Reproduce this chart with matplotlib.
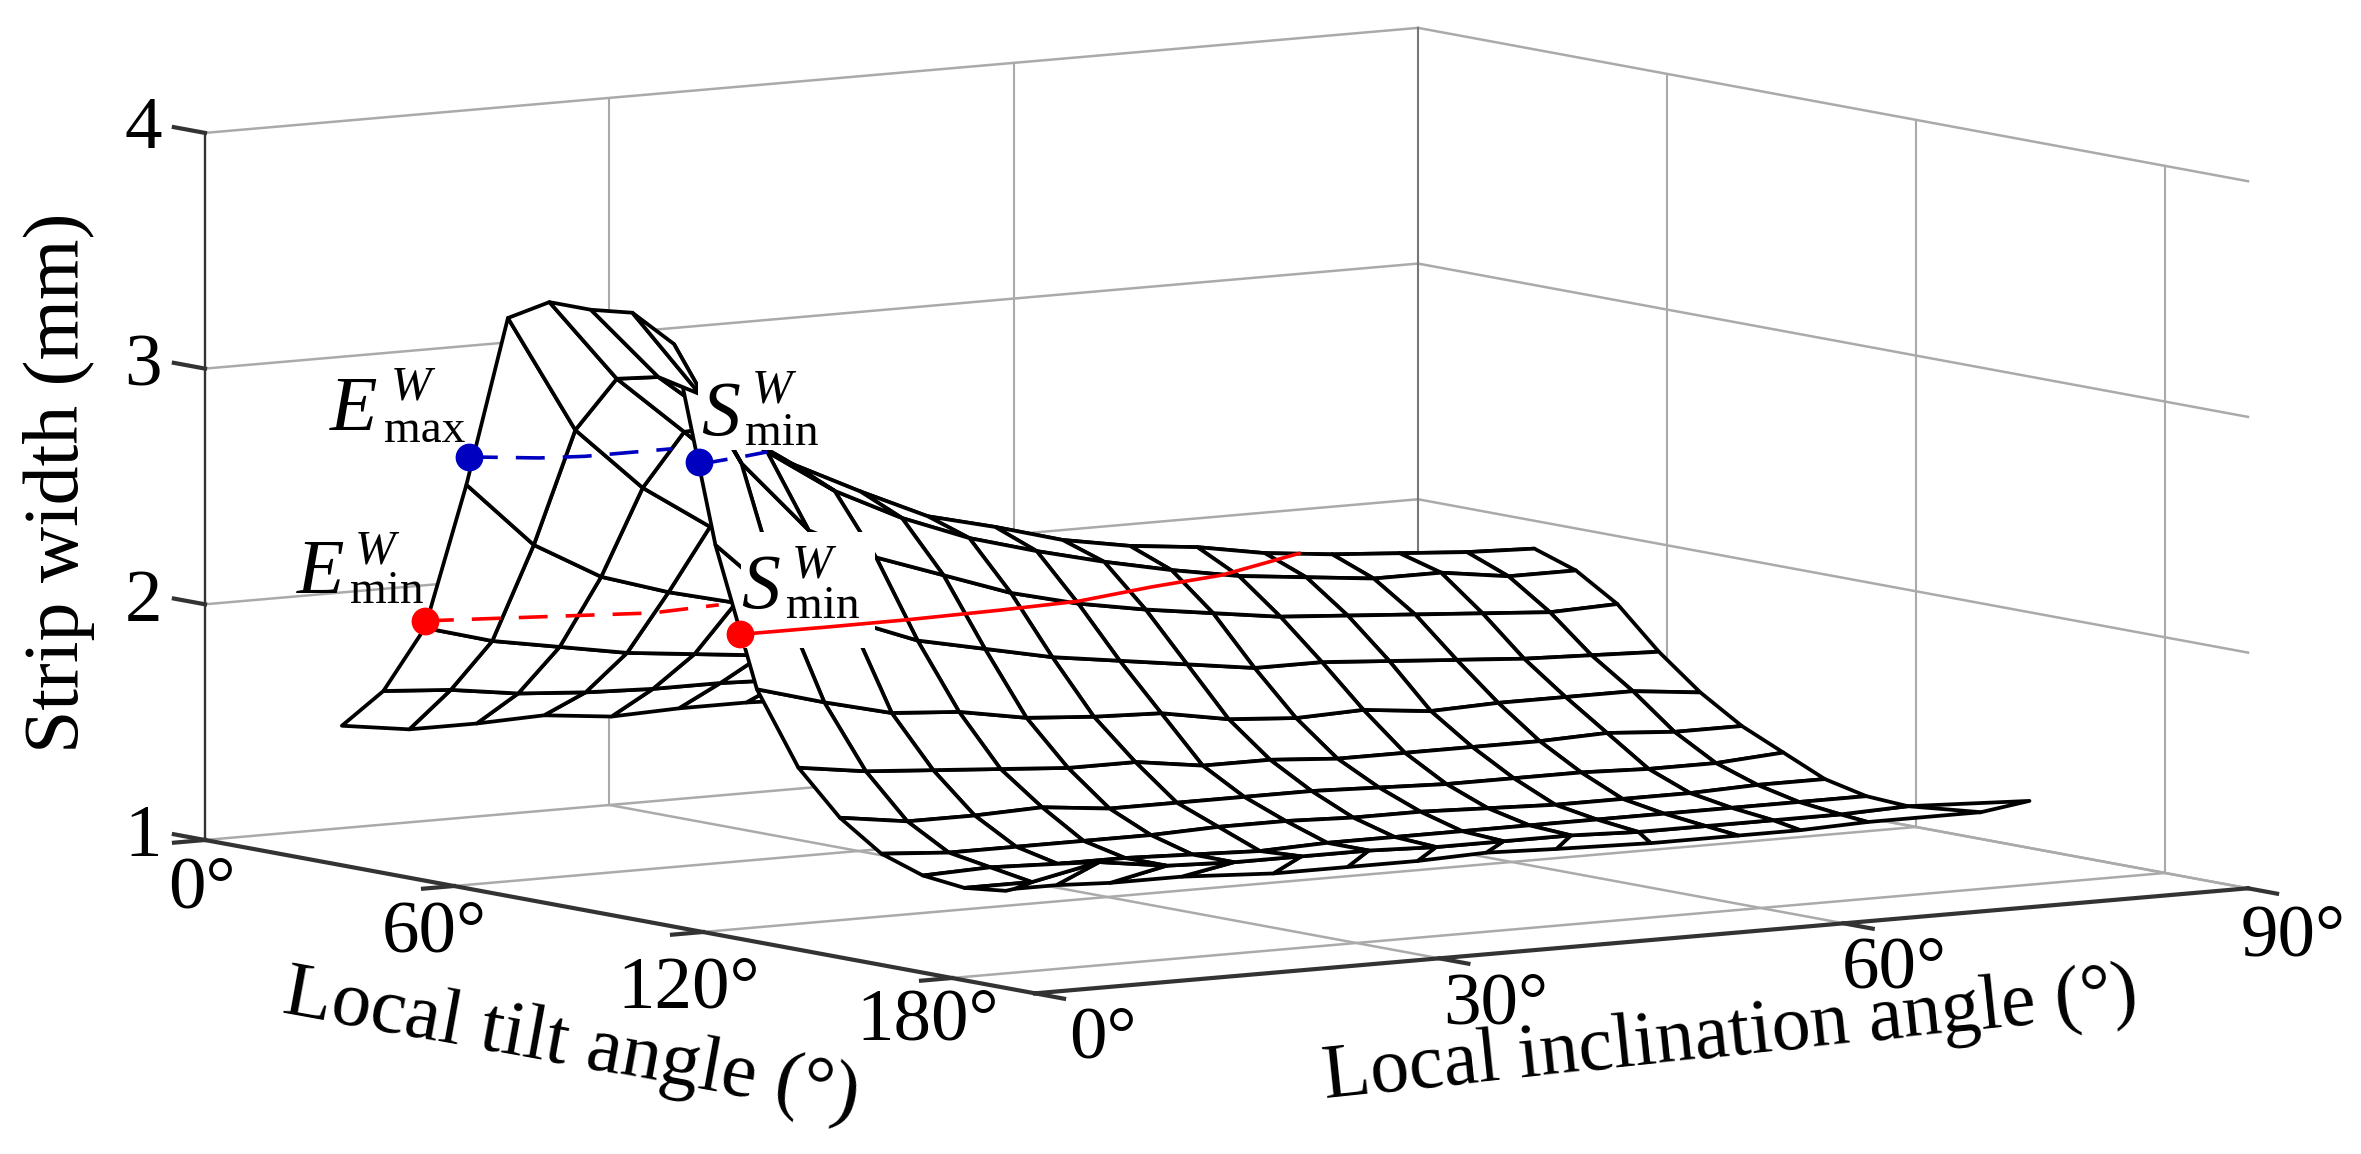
import numpy as np
from matplotlib import pyplot as plt
from matplotlib.patches import Rectangle

W = 2361
H = 1154

tilt_deg = [20, 30, 40, 50, 60, 70, 80, 90, 100, 110, 120, 130, 140, 150, 160, 170, 180]
incl_deg = [4, 9, 14, 19, 24, 29, 34, 39, 44, 49, 54, 59, 64, 69, 74]

# strip width (mm), one row per tilt angle, one column per inclination angle
w20 = [1.53, 1.49, 1.49, 1.50, 1.47, 1.48, 1.48, 1.47, 1.46, 1.45, 1.45, 1.44, 1.43, 1.42, 1.42]
w30 = [1.71, 1.69, 1.65, 1.63, 1.62, 1.62, 1.61, 1.60, 1.59, 1.58, 1.57, 1.56, 1.55, 1.54, 1.53]
w40 = [2.01, 1.93, 1.88, 1.83, 1.80, 1.77, 1.75, 1.73, 1.72, 1.71, 1.70, 1.69, 1.68, 1.67, 1.66]
w50 = [2.65, 2.37, 2.21, 2.12, 2.05, 2.00, 1.97, 1.94, 1.92, 1.90, 1.88, 1.87, 1.86, 1.85, 1.84]
w60 = [3.39, 2.89, 2.62, 2.43, 2.24, 2.18, 2.14, 2.10, 2.07, 2.05, 2.03, 2.01, 2.00, 1.99, 1.98]
w70 = [3.49, 3.14, 2.89, 2.63, 2.55, 2.40, 2.30, 2.22, 2.17, 2.13, 2.10, 2.08, 2.07, 2.06, 2.05]
w80 = [3.49, 3.18, 2.95, 2.76, 2.62, 2.49, 2.42, 2.34, 2.29, 2.26, 2.21, 2.18, 2.16, 2.14, 2.13]
w90 = [3.51, 3.14, 2.87, 2.68, 2.54, 2.43, 2.35, 2.28, 2.22, 2.17, 2.14, 2.11, 2.11, 2.07, 2.07]
w100 = [3.41, 2.88, 2.57, 2.43, 2.33, 2.23, 2.16, 2.11, 2.07, 2.03, 2.01, 1.99, 1.97, 1.95, 1.96]
w110 = [2.59, 2.32, 2.22, 2.11, 2.05, 1.99, 1.95, 1.91, 1.87, 1.87, 1.85, 1.83, 1.81, 1.80, 1.79]
w120 = [2.01, 1.93, 1.86, 1.84, 1.79, 1.77, 1.76, 1.71, 1.69, 1.70, 1.67, 1.68, 1.68, 1.68, 1.65]
w130 = [1.71, 1.67, 1.65, 1.63, 1.61, 1.61, 1.57, 1.57, 1.55, 1.55, 1.55, 1.55, 1.56, 1.54, 1.54]
w140 = [1.53, 1.49, 1.49, 1.50, 1.47, 1.47, 1.47, 1.47, 1.46, 1.45, 1.45, 1.45, 1.44, 1.44, 1.46]
w150 = [1.41, 1.39, 1.39, 1.39, 1.39, 1.40, 1.40, 1.39, 1.39, 1.38, 1.37, 1.37, 1.37, 1.38, 1.38]
w160 = [1.35, 1.36, 1.35, 1.35, 1.34, 1.33, 1.34, 1.34, 1.34, 1.34, 1.34, 1.34, 1.34, 1.34, 1.34]
w170 = [1.33, 1.33, 1.39, 1.35, 1.34, 1.34, 1.34, 1.33, 1.33, 1.33, 1.32, 1.32, 1.32, 1.32, 1.33]
strip_width = [w20, w30, w40, w50, w60, w70, w80, w90, w100, w110, w120, w130, w140, w150, w160, w170]

# the front row of the mesh folds back under the row behind it
front_tilt = [180, 160, 160, 160, 160, 160, 160, 160, 160, 160, 160, 160, 160, 160, 160]
front_incl = [4, 10.8, 13.9, 17.9, 23.2, 30, 35.5, 40.7, 45.8, 51, 58, 64.5, 69.1, 74.1, 82.5]
front_width = [1.35, 1.26, 1.26, 1.25, 1.25, 1.23, 1.23, 1.23, 1.24, 1.23, 1.22, 1.22, 1.22, 1.23, 1.23]

# last bit of the mesh that runs out to the tip
tip_tilt = [170, 160, 160]
tip_incl = [74, 86.1, 82.5]
tip_width = [1.33, 1.26, 1.23]

# traces drawn on the surface
emin_tilt = [40, 40, 40, 40]
emin_incl = [4, 14.2, 20.9, 25.8]
emin_width = [2.04, 2.01, 1.99, 2.00]
smin_tilt = [116, 112, 107.5, 104, 100, 95, 90, 88, 85]
smin_incl = [4, 11.5, 19, 27, 34, 41, 47.7, 51, 55]
smin_width = [2.23, 2.21, 2.19, 2.18, 2.17, 2.18, 2.18, 2.20, 2.22]
emax_tilt = [50.6, 50.6, 50.6, 50.6]
emax_incl = [4, 9.2, 12.6, 19.1]
emax_width = [2.77, 2.74, 2.73, 2.73]
smax_tilt = [106, 103, 99.8, 96.7, 90]
smax_incl = [4, 6, 8, 10, 14]
smax_width = [2.93, 2.91, 2.90, 2.89, 2.87]

tilt_ticks = [0, 60, 120, 180]
incl_ticks = [0, 30, 60, 90]
z_ticks = [1, 2, 3, 4]
tilt_end = 200

plt.rcParams['font.family'] = ['Liberation Serif', 'DejaVu Serif']


def make_axes(zorder):
    ax = fig.add_axes([0, 0, 1, 1], projection='3d', proj_type='ortho', facecolor='none')
    ax.set_zorder(zorder)
    ax.set_axis_off()
    ax.computed_zorder = False
    ax.apply_aspect = lambda position=None: None

    # the picture is an oblique view with upright verticals, so set the camera by hand
    def get_proj():
        x0, x1 = ax.viewLim.intervalx
        y0, y1 = ax.viewLim.intervaly
        sx = (x1 - x0) / W
        sy = (y1 - y0) / H
        return np.array([
            [sx * 4.15, sx * 13.478, 0, x0 + sx * 205],
            [-sy * 0.7667, sy * 1.167, sy * 235.7, y0 + sy * (H - 1075.7)],
            [-1 / 200, 1 / 90, -1 / 3, 1 / 3],
            [0, 0, 0, 1]])
    ax.get_proj = get_proj
    return ax


def px_text(x, y, s, size, **kw):
    return fig.text(x / W, 1 - y / H, s, fontsize=size, va='baseline', zorder=5, **kw)


def symbol(x, y, letter, sup_x, sup_y, sub_x, sub_y, sub):
    px_text(x, y, letter, 56, style='italic')
    px_text(sup_x, sup_y, 'W', 35, style='italic')
    px_text(sub_x, sub_y, sub, 34)


fig = plt.figure(figsize=(W / 100, H / 100), dpi=100)
ax = make_axes(0)
top = make_axes(2)

grey = '#aaaaaa'
dark = '#333333'

# walls and floor
for z in z_ticks:
    ax.plot([0, 0], [0, 90], [z, z], color=grey, lw=1.8, zorder=1)
    ax.plot([0, tilt_end], [90, 90], [z, z], color=grey, lw=1.8, zorder=1)
for i in incl_ticks[1:]:
    ax.plot([0, 0], [i, i], [1, 4], color='#777777' if i == 90 else grey, lw=1.5, zorder=1)
    ax.plot([0, tilt_end], [i, i], [1, 1], color=grey, lw=1.8, zorder=1)
for t in tilt_ticks[1:]:
    ax.plot([t, t], [90, 90], [1, 4], color=grey, lw=1.5, zorder=1)
    ax.plot([t, t], [0, 90], [1, 1], color=grey, lw=1.8, zorder=1)
ax.plot([0, 0], [0, 0], [1, 4], color=dark, lw=1.7, zorder=1)

# axis lines and ticks
ax.plot([0, tilt_end], [0, 0], [1, 1], color=dark, lw=3, zorder=1)
ax.plot([tilt_end, tilt_end], [0, 90], [1, 1], color=dark, lw=3, zorder=1)
for t in tilt_ticks:
    ax.plot([t, t], [0, -2.3], [1, 1], color=dark, lw=3, zorder=1)
for i in incl_ticks:
    ax.plot([tilt_end, tilt_end + 7], [i, i], [1, 1], color=dark, lw=3, zorder=1)
for z in z_ticks:
    ax.plot([0, -7.5], [0, 0], [z, z], color=dark, lw=3, zorder=1)

# mesh
X, Y = np.meshgrid(tilt_deg, incl_deg, indexing='ij')
X = X.astype(float)
Y = Y.astype(float)
X[-1] = front_tilt
Y[-1] = front_incl
Z = np.array(strip_width + [front_width])
ax.plot_surface(X, Y, Z, rstride=1, cstride=1, color='white',
                edgecolor='black', linewidth=2.7, shade=False, zorder=2)
ax.plot(tip_tilt, tip_incl, tip_width, color='black', lw=2.7, zorder=3)

# white boxes under the two S labels cut the mesh
for x0, y0, x1, y1 in [(698, 340, 825, 450), (741, 532, 875, 648)]:
    fig.add_artist(Rectangle((x0 / W, 1 - y1 / H), (x1 - x0) / W, (y1 - y0) / H,
                             transform=fig.transFigure, facecolor='white',
                             edgecolor='none', zorder=1))

red = '#ff0000'
blue = '#0000c0'
dash = (0, (8, 5))
top.plot(emin_tilt, emin_incl, emin_width, color=red, lw=2.6, ls=dash)
top.plot(smin_tilt, smin_incl, smin_width, color=red, lw=2.6)
top.plot(emax_tilt, emax_incl, emax_width, color=blue, lw=2.6, ls=dash)
top.plot(smax_tilt, smax_incl, smax_width, color=blue, lw=2.6, ls=dash)
for tt, ii, ww, c in [(emin_tilt, emin_incl, emin_width, red), (smin_tilt, smin_incl, smin_width, red),
                      (emax_tilt, emax_incl, emax_width, blue), (smax_tilt, smax_incl, smax_width, blue)]:
    top.plot(tt[:1], ii[:1], ww[:1], 'o', color=c, ms=20, mew=0)

# tick labels
for z, y in zip(z_ticks, [856, 621, 385, 148]):
    px_text(162, y, str(z), 54, ha='right')
for t, x, y in zip(tilt_ticks, [168, 382, 617, 856], [907, 952, 1008, 1040]):
    px_text(x, y, f'{t}°', 54)
for i, x, y in zip(incl_ticks, [1069, 1443, 1842, 2241], [1058, 1023, 987, 955]):
    px_text(x, y, f'{i}°', 54)

# axis labels
px_text(78, 753, 'Strip width (mm)', 56, rotation=90, rotation_mode='anchor', ha='left')
px_text(281, 1012, 'Local tilt angle (°)', 57, rotation=-10.3, rotation_mode='anchor', ha='left')
px_text(1325, 1098, 'Local inclination angle (°)', 56, rotation=6, rotation_mode='anchor', ha='left')

# point labels
symbol(330, 430, 'E', 391, 400, 384, 442, 'max')
symbol(701, 435, 'S', 752, 403, 745, 445, 'min')
symbol(297, 593, 'E', 355, 563, 350, 603, 'min')
symbol(741, 608, 'S', 792, 578, 786, 618, 'min')

fig.savefig('out.png', dpi=100)
